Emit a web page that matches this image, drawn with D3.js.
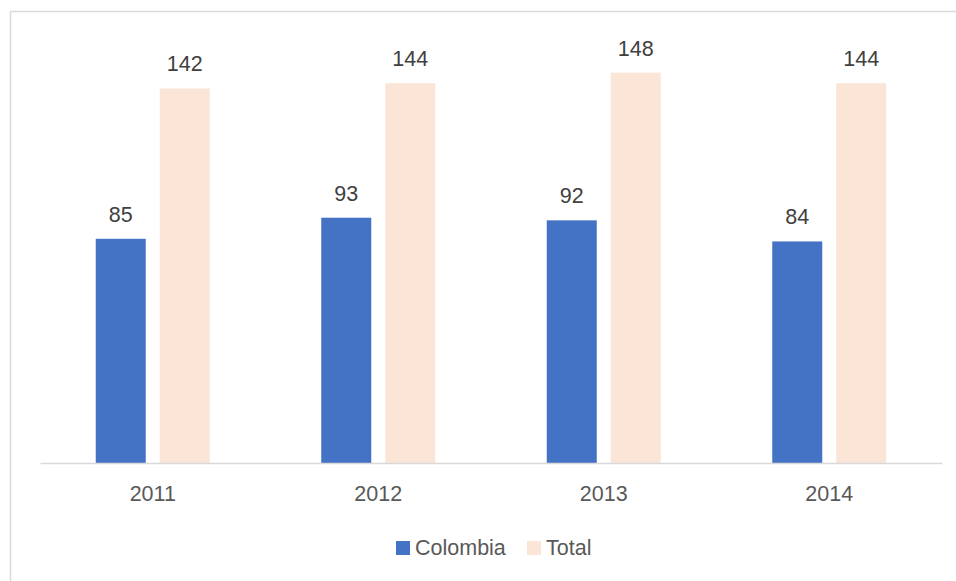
<!DOCTYPE html>
<html>
<head>
<meta charset="utf-8">
<script src="https://cdn.jsdelivr.net/npm/d3@7"></script>
<style>
  html, body { margin: 0; padding: 0; background: #fff; }
  svg { display: block; }
  text { font-family: "Liberation Sans", Arial, sans-serif; }
</style>
</head>
<body>
<svg id="chart" width="956" height="581"></svg>
<script>
// Chart data
const years = ["2011", "2012", "2013", "2014"];
const seriesNames = ["Colombia", "Total"];
const colombia = [85, 93, 92, 84];
const total = [142, 144, 148, 144];
const colors = ["#4472C4", "#FBE5D6"];

const svg = d3.select("#chart");
const W = 956, H = 581;
const fontSize = 21.5;

// Frame around chart area (left and top edges visible)
svg.append("path")
  .attr("d", `M10.5,${H} L10.5,11.5 L${W},11.5`)
  .attr("fill", "none")
  .attr("stroke", "#D9D9D9")
  .attr("stroke-width", 1.5);

const plot = { left: 40, right: 942, top: 41, bottom: 463 };

const x = d3.scaleBand()
  .domain(years)
  .range([plot.left, plot.right])
  .paddingInner(0)
  .paddingOuter(0);

const y = d3.scaleLinear()
  .domain([0, 160])
  .range([plot.bottom, plot.top]);

const barW = 50, barGap = 14;
const rows = years.map((yr, i) => ({ year: yr, values: [colombia[i], total[i]] }));

const groups = svg.append("g").selectAll("g")
  .data(rows)
  .join("g")
  .attr("transform", d => `translate(${x(d.year) + x.bandwidth() / 2},0)`);

const offset = k => (k === 0 ? -(barW + barGap / 2) : barGap / 2);

groups.selectAll("rect")
  .data(d => d.values.map((v, k) => ({ v, k })))
  .join("rect")
  .attr("x", d => offset(d.k))
  .attr("width", barW)
  .attr("y", d => y(d.v))
  .attr("height", d => y(0) - y(d.v))
  .attr("fill", d => colors[d.k]);

groups.selectAll("text.val")
  .data(d => d.values.map((v, k) => ({ v, k })))
  .join("text")
  .attr("class", "val")
  .attr("x", d => offset(d.k) + barW / 2)
  .attr("y", d => y(d.v) - 17)
  .attr("text-anchor", "middle")
  .attr("font-size", fontSize)
  .attr("fill", "#404040")
  .text(d => d.v);

// Category axis
const xAxis = svg.append("g")
  .attr("transform", `translate(0,${plot.bottom})`)
  .call(d3.axisBottom(x).tickSize(0).tickPadding(23));
xAxis.select(".domain").attr("stroke", "#D9D9D9").attr("stroke-width", 1.5);
xAxis.selectAll("text")
  .attr("font-size", fontSize)
  .attr("fill", "#595959")
  .attr("font-family", "Liberation Sans, Arial, sans-serif");

// Legend
const legendItems = [
  { name: seriesNames[0], color: colors[0], x: 396 },
  { name: seriesNames[1], color: colors[1], x: 527 }
];
const lg = svg.append("g").selectAll("g")
  .data(legendItems)
  .join("g")
  .attr("transform", d => `translate(${d.x},541)`);
lg.append("rect").attr("width", 14).attr("height", 14).attr("fill", d => d.color);
lg.append("text")
  .attr("x", 19)
  .attr("y", 14)
  .attr("font-size", fontSize)
  .attr("fill", "#595959")
  .text(d => d.name);
</script>
</body>
</html>
